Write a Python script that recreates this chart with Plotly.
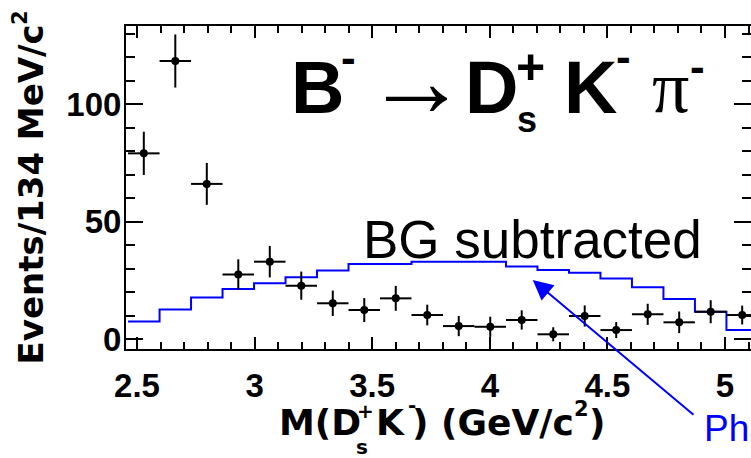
import plotly.graph_objects as go

# Histogram binning: 20 bins of 133.9 MeV/c^2 starting at the Ds+ K- threshold
bin_lo = 2.462
bin_w = 0.1339

# Background-subtracted yields and their errors (events per bin)
data_counts = [79.0, 118.3, 66.0, 27.5, 32.9, 22.7, 15.2, 12.3, 17.3, 10.2,
               5.5, 5.2, 8.1, 2.0, 9.8, 3.8, 10.5, 7.1, 11.6, 10.2]
data_errors = [9.2, 11.3, 8.9, 6.4, 6.7, 6.0, 5.4, 5.1, 5.3, 4.4,
               4.3, 4.3, 4.1, 3.0, 4.5, 3.4, 4.5, 4.6, 4.9, 4.0]

# Phase-space expectation (blue step histogram)
phsp_counts = [7.4, 12.6, 17.7, 21.3, 23.7, 26.3, 29.1, 31.9, 31.9, 32.9,
               32.9, 32.9, 30.8, 29.4, 28.2, 25.7, 22.0, 17.0, 11.6, 3.8]

x_tick_vals = [2.5, 3.0, 3.5, 4.0, 4.5, 5.0]
x_tick_text = ["2.5", "3", "3.5", "4", "4.5", "5"]
y_tick_vals = [0, 50, 100]
y_tick_text = ["0", "50", "100"]

n_bins = len(data_counts)
edges = [bin_lo + k * bin_w for k in range(n_bins + 1)]
centers = [bin_lo + (k + 0.5) * bin_w for k in range(n_bins)]
half_w = [bin_w / 2] * n_bins

W, H = 751, 458
ML, MR, MT, MB = 126, 0, 26, 109
PW, PH = W - ML - MR, H - MT - MB

SANS = "Liberation Sans"
WIDE = "DejaVu Sans"
SERIF = "Liberation Serif"


def px(x):
    return (x - ML) / PW


def py(y):
    return (H - MB - y) / PH


fig = go.Figure()

# phase-space step histogram
fig.add_trace(go.Scatter(
    x=edges, y=phsp_counts + [phsp_counts[-1]],
    mode="lines", line=dict(color="#0000ff", width=2, shape="hv"),
    hoverinfo="skip", showlegend=False,
))

# data points with error bars
fig.add_trace(go.Scatter(
    x=centers, y=data_counts, mode="markers",
    marker=dict(color="black", size=8),
    error_x=dict(type="data", array=half_w, color="black", thickness=2, width=0),
    error_y=dict(type="data", array=data_errors, color="black", thickness=2, width=0),
    showlegend=False,
))

annotations = []


def label(text, left, baseline, size, family=SANS, color="black", weight="normal"):
    """Place text by the left edge of its box and its baseline (pixels)."""
    annotations.append(dict(
        text=text, xref="paper", yref="paper",
        x=px(left), y=py(baseline - 0.3465 * size),
        xanchor="left", yanchor="middle", showarrow=False,
        borderpad=0, borderwidth=0,
        font=dict(family=family, size=size, color=color, weight=weight),
    ))


# decay label
label("B", 290.6, 113, 74, weight="bold")
label("-", 341, 72.9, 44, weight="bold")
label("\u2192", 365, 116.3, 103)
label("D", 464.6, 113, 74, weight="bold")
label("+", 516, 84.5, 50, weight="bold")
label("s", 517, 132, 36, weight="bold")
label("K", 563.6, 113, 74, weight="bold")
label("-", 616, 72.2, 44, weight="bold")
label("\u03c0", 651.5, 113, 74, family=SERIF)
label("-", 690, 82.2, 44, weight="bold")

label("BG subtracted", 362.5, 258.3, 53)
label("Phase space", 703.7, 441.7, 37, color="#0000ff")

# x-axis title
label("M(D", 279, 435, 36, family=WIDE, weight="bold")
label("+", 357, 418.2, 20, family=WIDE, weight="bold")
label("s", 356, 453.5, 20, family=WIDE, weight="bold")
label("K", 376, 435, 36, family=WIDE, weight="bold")
label("-", 407.5, 411.5, 20, family=WIDE, weight="bold")
label(") (GeV/c", 412, 435, 36, family=WIDE, weight="bold")
label("2", 574, 416.7, 21, family=WIDE, weight="bold")
label(")", 588.5, 435, 36, family=WIDE, weight="bold")

# y-axis title (rotated)
annotations.append(dict(
    text="Events/134 MeV/c", xref="paper", yref="paper",
    x=px(30.5), y=py(195), xanchor="center", yanchor="middle",
    textangle=-90, showarrow=False, borderpad=0, borderwidth=0,
    font=dict(family=WIDE, size=34, color="black", weight="bold"),
))
annotations.append(dict(
    text="2", xref="paper", yref="paper",
    x=px(20.5), y=py(17.5), xanchor="center", yanchor="middle",
    textangle=-90, showarrow=False, borderpad=0, borderwidth=0,
    font=dict(family=WIDE, size=21, color="black", weight="bold"),
))

# arrow from the phase-space label to the histogram
annotations.append(dict(
    text="", xref="paper", yref="paper",
    x=px(532.7), y=py(280), ax=162.3, ay=136,
    showarrow=True, arrowhead=2, arrowsize=2, arrowwidth=2,
    arrowcolor="#0000ff",
))

x0 = 2.5 - 11 / 235.2
x1 = x0 + PW / 235.2
y0 = -10 / 2.35
y1 = y0 + PH / 2.35

fig.update_layout(
    width=W, height=H,
    margin=dict(l=ML, r=MR, t=MT, b=MB, pad=0),
    paper_bgcolor="white", plot_bgcolor="white",
    annotations=annotations,
    xaxis=dict(
        range=[x0, x1], tickvals=x_tick_vals, ticktext=x_tick_text,
        ticks="inside", ticklen=12, tickwidth=2, tickcolor="black",
        minor=dict(dtick=0.1, tick0=2.5, ticks="inside", ticklen=7,
                   tickwidth=2, tickcolor="black", showgrid=False),
        showline=True, linewidth=2, linecolor="black", mirror="allticks",
        showgrid=False, zeroline=False, automargin=False,
        ticklabelstandoff=6,
        tickfont=dict(family=SANS, size=33, color="black", weight="bold"),
    ),
    yaxis=dict(
        range=[y0, y1], tickvals=y_tick_vals, ticktext=y_tick_text,
        ticks="inside", ticklen=17, tickwidth=2, tickcolor="black",
        minor=dict(dtick=10, tick0=0, ticks="inside", ticklen=9,
                   tickwidth=2, tickcolor="black", showgrid=False),
        showline=True, linewidth=2, linecolor="black", mirror="allticks",
        showgrid=False, zeroline=False, automargin=False,
        ticklabelstandoff=-4,
        tickfont=dict(family=SANS, size=33, color="black", weight="bold"),
    ),
)

fig.write_html("out.html")
